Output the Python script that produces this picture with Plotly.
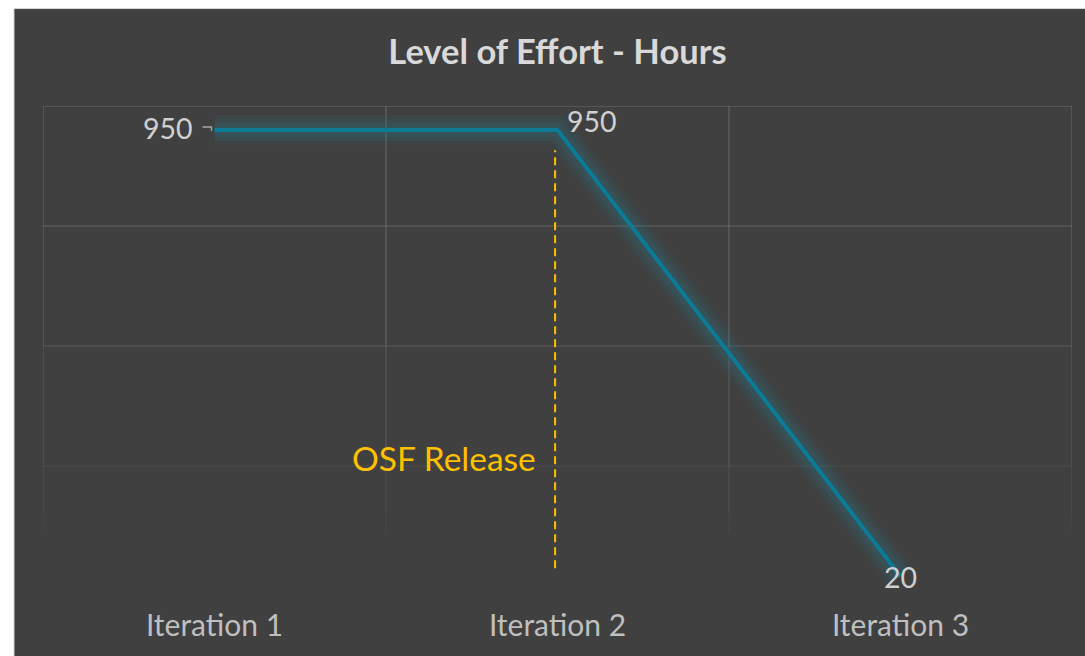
import plotly.graph_objects as go

# ---- data ----
categories = ["Iteration 1", "Iteration 2", "Iteration 3"]
hours = [950, 950, 20]
hour_labels = ["950", "950", "20"]
grid_values = [250, 500, 750, 1000]
y_max = 1000
osf_x = 0.993          # position of release marker (category index units)
osf_y_range = [37, 908]
osf_label = "OSF Release"
osf_label_y = 267
title_text = "Level of Effort - Hours"

FONT = "Lato"
BG = "#404040"
LINE = "#0b7b96"
x_idx = list(range(len(categories)))

fig = go.Figure()

# glow layers
for w, a in [(30, 0.07), (22, 0.10), (14, 0.14)]:
    fig.add_trace(go.Scatter(x=x_idx, y=hours, mode="lines",
                             line=dict(color=f"rgba(35,125,150,{a})", width=w),
                             hoverinfo="skip", showlegend=False))
fig.add_trace(go.Scatter(x=x_idx, y=hours, mode="lines",
                         line=dict(color=LINE, width=4), showlegend=False))

shapes = []
# dark panel and white frame
shapes.append(dict(type="rect", xref="paper", yref="paper", x0=-0.0282, x1=1.05,
                   y0=-0.3, y1=1.203, fillcolor=BG, line=dict(color="#d9d9d9", width=1),
                   layer="below"))
# horizontal gridlines (fading downward)
h_alpha = {1000: 0.16, 750: 0.12, 500: 0.09, 250: 0.05}
for g in grid_values:
    shapes.append(dict(type="line", xref="paper", yref="y", x0=0, x1=1, y0=g, y1=g,
                       line=dict(color=f"rgba(255,255,255,{h_alpha[g]})", width=1.5), layer="below"))
# vertical gridlines at category boundaries, fading downward
segs = [(1000, 500, 0.14), (500, 250, 0.10), (250, 150, 0.06), (150, 110, 0.03)]
for b in [-0.5, 0.5, 1.5, 2.5]:
    for y0, y1, a in segs:
        shapes.append(dict(type="line", xref="x", yref="y", x0=b, x1=b, y0=y0, y1=y1,
                           line=dict(color=f"rgba(255,255,255,{a})", width=1.5), layer="below"))
# OSF release marker
shapes.append(dict(type="line", xref="x", yref="y", x0=osf_x, x1=osf_x,
                   y0=osf_y_range[0], y1=osf_y_range[1],
                   line=dict(color="#ffc000", width=2, dash="8px,5px")))
# leader line of first data label
shapes.append(dict(type="path", xref="x", yref="y", xsizemode="pixel", ysizemode="pixel",
                   xanchor=x_idx[0], yanchor=hours[0], path="M -12,3 L -3,3 L -3,-1",
                   line=dict(color="#a6a6a6", width=1.3)))

annotations = [
    dict(x=x_idx[0], y=hours[0], text=hour_labels[0], showarrow=False, xanchor="right",
         yanchor="middle", xshift=-20, yshift=2, font=dict(family=FONT, size=28.5, color="#d0d0d0")),
    dict(x=x_idx[1], y=hours[1], text=hour_labels[1], showarrow=False, xanchor="left",
         yanchor="middle", xshift=7, yshift=9, font=dict(family=FONT, size=28.5, color="#d0d0d0")),
    dict(x=x_idx[2], y=hours[2], text=hour_labels[2], showarrow=False, xanchor="center",
         yanchor="middle", xshift=0, yshift=-1, font=dict(family=FONT, size=28.5, color="#d0d0d0")),
    dict(x=osf_x, y=osf_label_y, text=osf_label, showarrow=False, xanchor="right",
         yanchor="middle", xshift=-17, font=dict(family=FONT, size=33.5, color="#ffc000")),
]

fig.update_layout(
    width=1085, height=656,
    margin=dict(l=43, r=13, t=106, b=70, autoexpand=False),
    paper_bgcolor="white", plot_bgcolor="rgba(0,0,0,0)",
    title=dict(text=f"<b>{title_text}</b>", x=0.5, xanchor="center", xref="paper",
               y=1 - 52 / 656, yanchor="middle",
               font=dict(family=FONT, size=34.5, color="#d9d9d9")),
    xaxis=dict(range=[-0.5, 2.5], tickvals=x_idx, ticktext=categories, showgrid=False,
               zeroline=False, showline=False, ticks="", ticklabelstandoff=19,
               tickfont=dict(family=FONT, size=30, color="#bfbfbf")),
    yaxis=dict(range=[0, y_max], showgrid=False, zeroline=False, showline=False,
               showticklabels=False, ticks=""),
    shapes=shapes, annotations=annotations, showlegend=False,
)

fig.write_html("out.html", config={"displayModeBar": False},
               post_script="document.body.style.margin='0';")
